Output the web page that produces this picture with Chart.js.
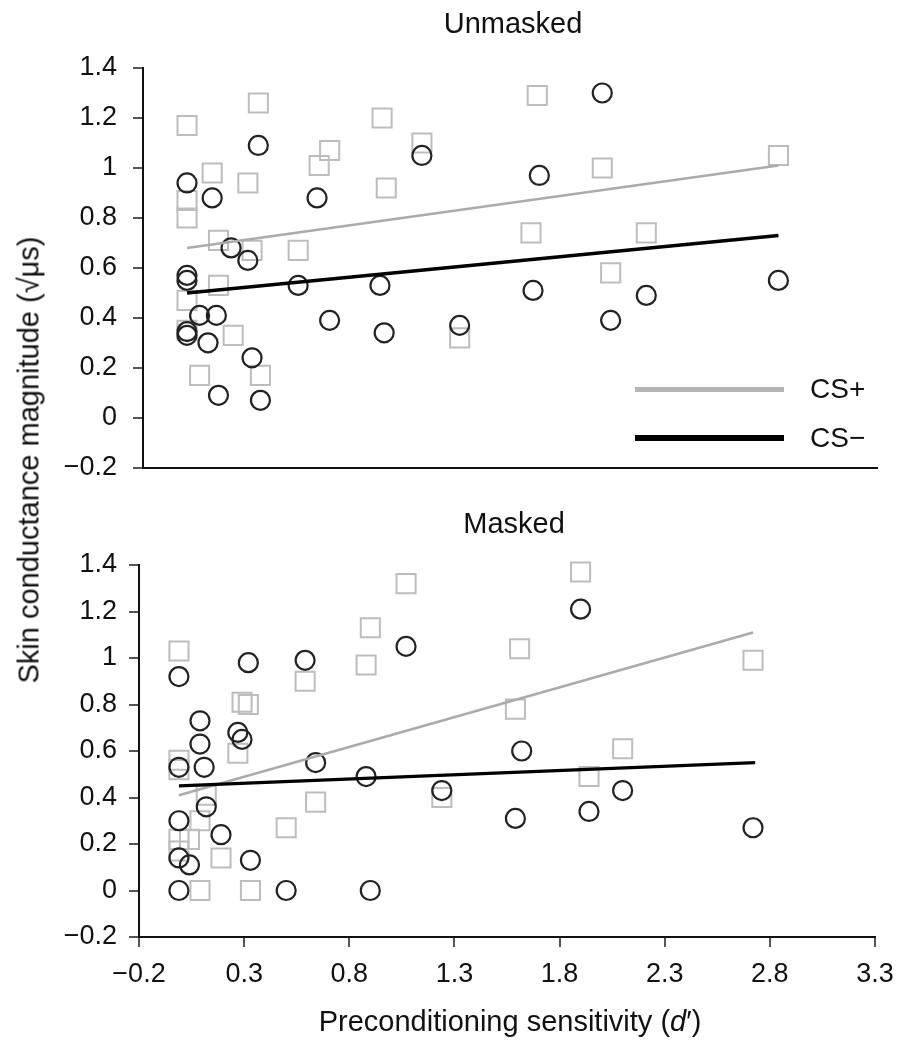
<!DOCTYPE html>
<html>
<head>
<meta charset="utf-8">
<script src="https://cdn.jsdelivr.net/npm/chart.js@4.4.1/dist/chart.umd.min.js"></script>
<style>
  body { margin: 0; background: #fff; font-family: "Liberation Sans", Arial, sans-serif; }
  #wrap { position: relative; width: 908px; height: 1050px; overflow: hidden; }
  canvas { position: absolute; left: 0; }
  .txt { position: absolute; color: #111; font-size: 29px; white-space: nowrap; transform: translate(-50%, -50%); }
  .key { position: absolute; left: 635px; width: 149px; }
</style>
</head>
<body>
<div id="wrap">
  <canvas id="unmasked" width="908" height="500" style="top:0"></canvas>
  <canvas id="masked" width="908" height="550" style="top:500px"></canvas>

  <div class="txt" style="left:513px;top:23px">Unmasked</div>
  <div class="txt" style="left:514px;top:523px">Masked</div>
  <div class="txt" style="left:29px;top:460px;transform:translate(-50%,-50%) rotate(-90deg)">Skin conductance magnitude (√μs)</div>
  <div class="txt" style="left:510px;top:1021px">Preconditioning sensitivity (<i>d</i>′)</div>

  <div class="key" style="top:387px;height:5px;background:#b4b4b4"></div>
  <div class="key" style="top:435px;height:6px;background:#000"></div>
  <div class="txt" style="left:810px;top:389px;transform:translate(0,-50%);font-size:28px">CS+</div>
  <div class="txt" style="left:810px;top:438px;transform:translate(0,-50%);font-size:28px">CS−</div>
</div>

<script>
// axis ticks
const xTicks = [-0.2, 0.3, 0.8, 1.3, 1.8, 2.3, 2.8, 3.3];
const yTicks = [-0.2, 0, 0.2, 0.4, 0.6, 0.8, 1.0, 1.2, 1.4];

// Unmasked: CS+ (squares)
const unPlusX = [0.01, 0.35, 0.13, 0.30, 0.01, 0.01, 0.16, 0.32, 0.54, 0.16, 0.01, 0.01, 0.23, 0.07, 0.36,
  0.64, 0.69, 0.94, 0.96, 1.13, 1.31, 1.68, 1.99, 1.65, 2.20, 2.03, 2.83];
const unPlusY = [1.17, 1.26, 0.98, 0.94, 0.87, 0.80, 0.71, 0.67, 0.67, 0.53, 0.47, 0.35, 0.33, 0.17, 0.17,
  1.01, 1.07, 1.20, 0.92, 1.10, 0.32, 1.29, 1.00, 0.74, 0.74, 0.58, 1.05];
// Unmasked: CS- (circles)
const unMinusX = [0.01, 0.13, 0.35, 0.22, 0.30, 0.63, 1.13, 0.01, 0.01, 0.07, 0.15, 0.01, 0.01, 0.11, 0.32,
  0.16, 0.36, 0.54, 0.69, 0.93, 0.95, 1.31, 1.99, 1.69, 1.66, 2.20, 2.03, 2.83];
const unMinusY = [0.94, 0.88, 1.09, 0.68, 0.63, 0.88, 1.05, 0.57, 0.55, 0.41, 0.41, 0.345, 0.33, 0.30, 0.24,
  0.09, 0.07, 0.53, 0.39, 0.53, 0.34, 0.37, 1.30, 0.97, 0.51, 0.49, 0.39, 0.55];
// Unmasked fit lines
const unPlusFitX = [0.01, 2.83];
const unPlusFitY = [0.68, 1.01];
const unMinusFitX = [0.01, 2.83];
const unMinusFitY = [0.50, 0.73];

// Masked: CS+ (squares)
const mPlusX = [-0.01, 0.29, 0.32, 0.27, -0.01, -0.01, 0.12, 0.09, 0.04, -0.01, -0.01, 0.19, 0.09, 0.33, 0.50,
  0.64, 0.59, 0.88, 0.90, 1.07, 1.24, 1.59, 1.90, 1.61, 2.10, 1.94, 2.72];
const mPlusY = [1.03, 0.81, 0.80, 0.59, 0.56, 0.52, 0.41, 0.30, 0.22, 0.22, 0.17, 0.14, 0.00, 0.00, 0.27,
  0.38, 0.90, 0.97, 1.13, 1.32, 0.40, 0.78, 1.37, 1.04, 0.61, 0.49, 0.99];
// Masked: CS- (circles)
const mMinusX = [-0.01, 0.32, 0.59, 1.07, 0.09, 0.09, 0.27, 0.29, -0.01, 0.11, 0.64, 0.88, 1.24, 0.12,
  -0.01, 0.19, -0.01, 0.04, 0.33, -0.01, 0.50, 0.90, 1.90, 1.62, 2.10, 1.94, 1.59, 2.72];
const mMinusY = [0.92, 0.98, 0.99, 1.05, 0.73, 0.63, 0.68, 0.65, 0.53, 0.53, 0.55, 0.49, 0.43, 0.36,
  0.30, 0.24, 0.14, 0.11, 0.13, 0.00, 0.00, 0.00, 1.21, 0.60, 0.43, 0.34, 0.31, 0.27];
// Masked fit lines
const mPlusFitX = [-0.01, 2.72];
const mPlusFitY = [0.41, 1.11];
const mMinusFitX = [-0.01, 2.73];
const mMinusFitY = [0.45, 0.55];

const pts = (xs, ys) => xs.map((x, i) => ({ x: x, y: ys[i] }));
const fmt = (v) => String(Number(v.toFixed(1))).replace("-", "\u2212");
const font = { family: "'Liberation Sans', Arial, sans-serif", size: 27 };

const makePanel = (id, d, box) => {
  new Chart(document.getElementById(id), {
    type: "scatter",
    data: {
      datasets: [
        { data: pts(d.minusFitX, d.minusFitY), showLine: true, pointRadius: 0, borderColor: "#000", borderWidth: 3.5 },
        { data: pts(d.plusFitX, d.plusFitY), showLine: true, pointRadius: 0, borderColor: "#ababab", borderWidth: 2.5 },
        { data: pts(d.minusX, d.minusY), pointStyle: "circle", pointRadius: 9.5, borderColor: "#222",
          backgroundColor: "rgba(0,0,0,0)", borderWidth: 2.2, clip: false },
        { data: pts(d.plusX, d.plusY), pointStyle: "rect", pointRadius: 13.5, borderColor: "#bdbdbd",
          backgroundColor: "rgba(0,0,0,0)", borderWidth: 2, clip: false },
      ],
    },
    options: {
      responsive: false,
      animation: false,
      layout: { padding: { top: box.top, right: box.right, left: 0, bottom: 0 } },
      plugins: { legend: { display: false }, tooltip: { enabled: false } },
      scales: {
        x: {
          type: "linear",
          min: -0.2,
          max: 3.3,
          afterBuildTicks: (s) => { s.ticks = xTicks.map((v) => ({ value: v })); },
          afterFit: (s) => { s.height = box.xHeight; },
          grid: { display: box.showX, drawOnChartArea: false, tickLength: 10, color: "#555", lineWidth: 2 },
          border: { color: "#111", width: 2 },
          ticks: { display: box.showX, font: font, color: "#111", padding: 11, maxRotation: 0, callback: fmt },
        },
        y: {
          type: "linear",
          min: -0.2,
          max: 1.4,
          afterBuildTicks: (s) => { s.ticks = yTicks.map((v) => ({ value: v })); },
          afterFit: (s) => { s.width = box.left; },
          grid: { drawOnChartArea: false, tickLength: 10, color: "#555", lineWidth: 2 },
          border: { color: "#111", width: 2 },
          ticks: { font: font, color: "#111", padding: box.tickPad, callback: fmt },
        },
      },
    },
  });
};

makePanel("unmasked",
  { plusX: unPlusX, plusY: unPlusY, minusX: unMinusX, minusY: unMinusY,
    plusFitX: unPlusFitX, plusFitY: unPlusFitY, minusFitX: unMinusFitX, minusFitY: unMinusFitY },
  { top: 68, right: 31, left: 143, xHeight: 23, showX: false, tickPad: 16 });

makePanel("masked",
  { plusX: mPlusX, plusY: mPlusY, minusX: mMinusX, minusY: mMinusY,
    plusFitX: mPlusFitX, plusFitY: mPlusFitY, minusFitX: mMinusFitX, minusFitY: mMinusFitY },
  { top: 65, right: 33, left: 139, xHeight: 113, showX: true, tickPad: 12 });
</script>
</body>
</html>
